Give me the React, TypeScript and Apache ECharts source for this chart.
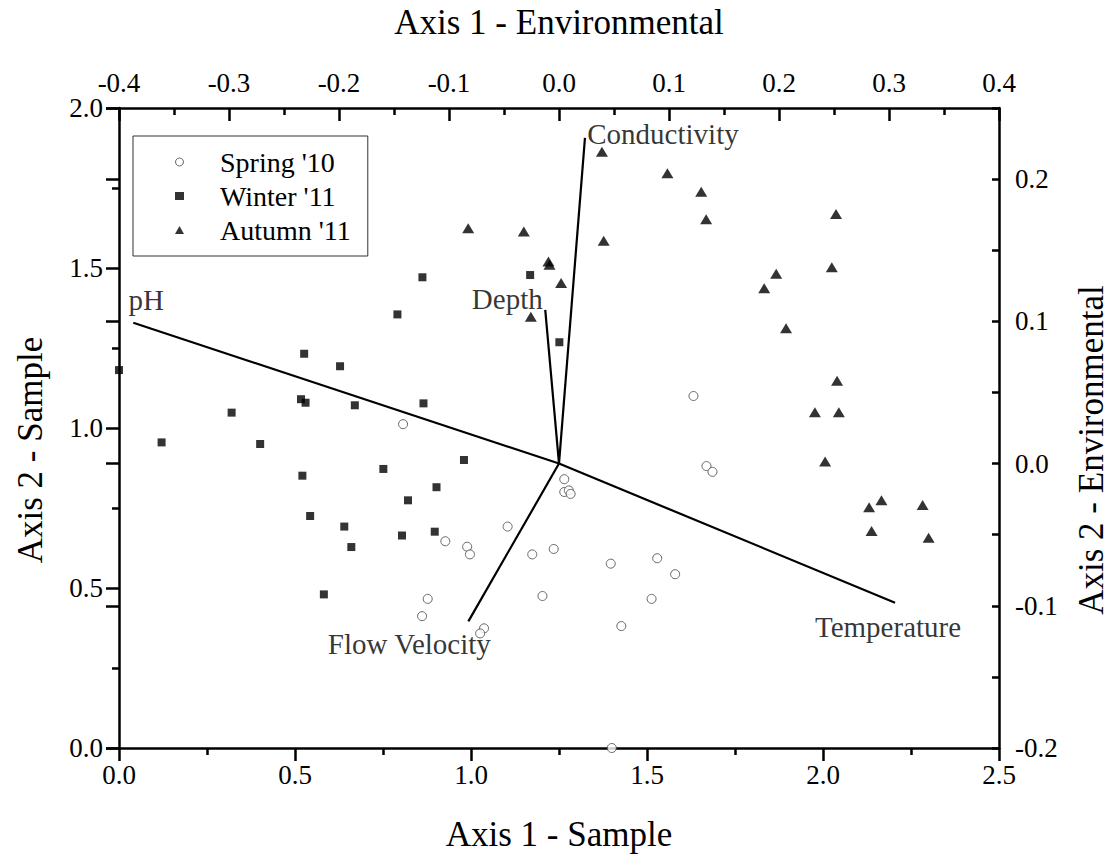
import React, { useEffect, useRef } from "react";
import * as echarts from "echarts";

// ---- Data ----
const springPoints: number[][] = [
  [0.807, 1.012], [0.927, 0.646], [0.989, 0.629], [0.997, 0.605], [0.877, 0.466],
  [0.861, 0.412], [1.037, 0.374], [1.026, 0.358], [1.632, 1.100], [1.669, 0.881],
  [1.686, 0.863], [1.265, 0.840], [1.265, 0.800], [1.278, 0.805], [1.283, 0.794],
  [1.104, 0.692], [1.174, 0.605], [1.235, 0.622], [1.397, 0.576], [1.529, 0.593],
  [1.580, 0.543], [1.203, 0.475], [1.513, 0.466], [1.427, 0.381], [1.400, 0.0],
];
const winterPoints: number[][] = [
  [0.862, 1.471], [0.791, 1.355], [0.526, 1.232], [0.628, 1.193], [0.0, 1.181],
  [0.517, 1.090], [0.530, 1.079], [0.320, 1.048], [0.670, 1.071], [0.865, 1.077],
  [0.121, 0.955], [0.401, 0.950], [0.521, 0.851], [0.751, 0.872], [0.980, 0.900],
  [0.902, 0.815], [0.821, 0.774], [0.543, 0.725], [0.640, 0.692], [0.804, 0.664],
  [0.897, 0.676], [0.660, 0.628], [0.582, 0.480], [1.168, 1.478], [1.251, 1.268],
];
const autumnPoints: number[][] = [
  [0.992, 1.624], [1.372, 1.863], [1.558, 1.796], [1.654, 1.738], [1.668, 1.652],
  [2.037, 1.669], [1.150, 1.614], [1.377, 1.585], [1.220, 1.520], [1.223, 1.510],
  [1.256, 1.453], [1.170, 1.348], [1.867, 1.482], [1.833, 1.437], [2.025, 1.502],
  [1.895, 1.312], [2.040, 1.148], [1.977, 1.049], [2.045, 1.049], [2.006, 0.895],
  [2.131, 0.752], [2.166, 0.774], [2.283, 0.759], [2.138, 0.678], [2.300, 0.657],
];
const seriesNames = ["Spring '10", "Winter '11", "Autumn '11"];

const vectorNames = ["pH", "Conductivity", "Depth", "Flow Velocity", "Temperature"];
const vectorEnds: number[][] = [
  [-0.387, 0.099],
  [0.0236, 0.229],
  [-0.0125, 0.108],
  [-0.0824, -0.111],
  [0.3055, -0.0978],
];

const sampleXRange = [0, 2.5];
const sampleYRange = [0, 2.0];
const envXRange = [-0.4, 0.4];
const envYRange = [-0.2, 0.25];

// label offsets (pixels) for the vector names, relative to vector tips
const vectorLabelOffsets: number[][] = [
  [13, -23],
  [78, -4],
  [-38, -11],
  [-59, 23],
  [-7, 24],
];

const FONT = "Liberation Serif";
const W = 1111;
const H = 857;

export default function App() {
  const ref = useRef<HTMLDivElement>(null);

  useEffect(() => {
    if (!ref.current) return;
    const chart = echarts.init(ref.current, undefined, { renderer: "svg", width: W, height: H });

    const axisLine = { show: true, onZero: false, lineStyle: { color: "#000", width: 2.5 } };
    const tickStyle = { color: "#000", width: 2.5 };
    const labelBase = { fontFamily: FONT, fontSize: 27, color: "#000" };
    const nameStyle = { fontFamily: FONT, fontSize: 35, color: "#000" };
    const fmt1 = (v: number) => (Math.abs(v) < 1e-9 ? "0.0" : v.toFixed(1));

    const option: any = {
      animation: false,
      backgroundColor: "#fff",
      grid: {
        left: 119,
        right: 112,
        top: 108,
        bottom: 109,
        containLabel: false,
        outerBoundsMode: "none",
      },
      legend: {
        data: [
          { name: seriesNames[0], icon: "circle", itemStyle: { color: "#fff", borderColor: "#444", borderWidth: 1 } },
          { name: seriesNames[1], icon: "rect" },
          { name: seriesNames[2], icon: "triangle" },
        ],
        left: 133,
        top: 136,
        orient: "vertical",
        padding: [12, 17, 12, 42],
        itemWidth: 9,
        itemHeight: 8,
        itemGap: 6,
        borderColor: "#333",
        borderWidth: 1,
        textStyle: { fontFamily: FONT, fontSize: 28, color: "#000", lineHeight: 28, padding: [0, 0, 0, 31] },
      },
      xAxis: [
        {
          type: "value",
          position: "bottom",
          min: sampleXRange[0],
          max: sampleXRange[1],
          interval: 0.5,
          axisLine,
          axisTick: { show: true, inside: false, length: 13, lineStyle: tickStyle },
          minorTick: { show: true, splitNumber: 2, length: 7, lineStyle: tickStyle },
          splitLine: { show: false },
          minorSplitLine: { show: false },
          axisLabel: { ...labelBase, margin: 13, formatter: fmt1 },
          name: "Axis 1 - Sample",
          nameLocation: "middle",
          nameGap: 69,
          nameTextStyle: nameStyle,
        },
        {
          type: "value",
          position: "top",
          min: envXRange[0],
          max: envXRange[1],
          interval: 0.1,
          axisLine,
          axisTick: { show: true, inside: true, length: 13, lineStyle: tickStyle },
          minorTick: { show: true, splitNumber: 2, length: 7, lineStyle: tickStyle },
          splitLine: { show: false },
          axisLabel: { ...labelBase, margin: 12, formatter: fmt1 },
          name: "Axis 1 - Environmental",
          nameLocation: "middle",
          nameGap: 68,
          nameTextStyle: nameStyle,
        },
      ],
      yAxis: [
        {
          type: "value",
          position: "left",
          min: sampleYRange[0],
          max: sampleYRange[1],
          interval: 0.5,
          axisLine,
          axisTick: { show: true, inside: false, length: 13, lineStyle: tickStyle },
          minorTick: { show: true, splitNumber: 2, length: 7, lineStyle: tickStyle },
          splitLine: { show: false },
          axisLabel: { ...labelBase, margin: 16, formatter: fmt1 },
          name: "Axis 2 - Sample",
          nameLocation: "middle",
          nameRotate: 90,
          nameGap: 71,
          nameTextStyle: { ...nameStyle, padding: [0, 44, 0, 0] },
        },
        {
          type: "value",
          position: "right",
          min: envYRange[0],
          max: envYRange[1],
          interval: 0.05,
          axisLine,
          axisTick: { show: true, inside: true, length: 7, lineStyle: tickStyle },
          splitLine: { show: false },
          axisLabel: {
            ...labelBase,
            margin: 16,
            formatter: (v: number) => {
              const t = v * 10;
              return Math.abs(t - Math.round(t)) < 1e-6 ? fmt1(v) : "";
            },
          },
          name: "Axis 2 - Environmental",
          nameLocation: "middle",
          nameRotate: 90,
          nameGap: 75,
          nameTextStyle: { ...nameStyle, padding: [0, 44, 0, 0] },
        },
        {
          type: "value",
          position: "right",
          min: envYRange[0],
          max: envYRange[1],
          interval: 0.1,
          axisLine: { show: false },
          axisTick: { show: true, inside: true, length: 13, lineStyle: tickStyle },
          splitLine: { show: false },
          axisLabel: { show: false },
        },
      ],
      series: [
        {
          name: seriesNames[0],
          type: "scatter",
          xAxisIndex: 0,
          yAxisIndex: 0,
          symbol: "circle",
          symbolSize: 9,
          itemStyle: { color: "#fff", borderColor: "#444", borderWidth: 1 },
          data: springPoints,
          z: 3,
        },
        {
          name: seriesNames[1],
          type: "scatter",
          xAxisIndex: 0,
          yAxisIndex: 0,
          symbol: "rect",
          symbolSize: 8,
          itemStyle: { color: "#000" },
          data: winterPoints,
          z: 3,
        },
        {
          name: seriesNames[2],
          type: "scatter",
          xAxisIndex: 0,
          yAxisIndex: 0,
          symbol: "triangle",
          symbolSize: [12, 10],
          itemStyle: { color: "#000" },
          data: autumnPoints,
          z: 3,
        },
        ...vectorNames.map((n, i) => ({
          name: n,
          type: "line",
          xAxisIndex: 1,
          yAxisIndex: 1,
          showSymbol: false,
          symbol: "none",
          lineStyle: { color: "#000", width: 2.2 },
          data: [[0, 0], vectorEnds[i]],
          z: 4,
          silent: true,
        })),
        {
          name: "vector-labels",
          type: "scatter",
          xAxisIndex: 1,
          yAxisIndex: 1,
          symbol: "circle",
          symbolSize: 1,
          itemStyle: { color: "rgba(0,0,0,0)" },
          silent: true,
          z: 5,
          data: vectorNames.map((n, i) => ({
            name: n,
            value: vectorEnds[i],
            label: {
              show: true,
              position: "inside",
              offset: vectorLabelOffsets[i],
              formatter: n,
              fontFamily: FONT,
              fontSize: 29,
              color: "#000",
              align: "center",
              verticalAlign: "middle",
            },
          })),
        },
      ],
    };

    chart.setOption(option);
    return () => chart.dispose();
  }, []);

  return (
    <div
      ref={ref}
      style={{ position: "fixed", left: 0, top: 0, width: W, height: H, background: "#fff" }}
    />
  );
}
